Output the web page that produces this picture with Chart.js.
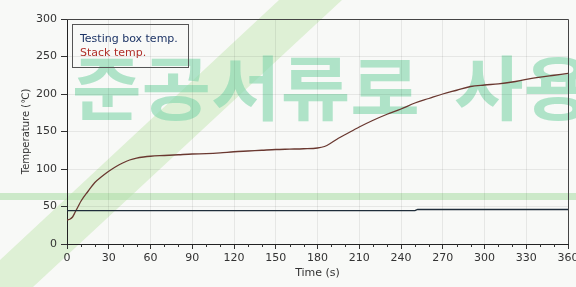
<!DOCTYPE html>
<html>
<head>
<meta charset="utf-8">
<script src="https://cdn.jsdelivr.net/npm/chart.js@4/dist/chart.umd.min.js"></script>
<style>
  html, body { margin: 0; padding: 0; overflow: hidden; background: #f8f9f7; }
  #wrap { width: 576px; height: 287px; overflow: hidden; }
</style>
</head>
<body>
<div id="wrap"><canvas id="tempChart" width="590" height="287"></canvas></div>
<script>
// Data
const stackTime = [0, 2, 4, 6, 8, 10, 15, 20, 25, 30, 35, 40, 45, 50, 55, 60, 70, 80, 90, 100, 110, 120, 130, 140, 150, 160, 170, 180, 185, 190, 195, 200, 210, 220, 230, 240, 250, 260, 270, 280, 290, 300, 310, 320, 330, 340, 350, 360];
const stackTemp = [32, 33, 36, 43, 50, 57, 70, 82, 90, 97, 103, 108, 112, 114.5, 116, 117, 118, 119, 120, 120.5, 121.5, 123, 124, 125, 126, 126.5, 127, 128, 130, 135, 141, 146, 156, 165, 173, 180, 188, 194, 200, 205, 210, 212, 213.5, 216, 219.5, 222.5, 225, 227.5];
const boxTime = [0, 250, 252, 360];
const boxTemp = [44.5, 44.5, 46, 46];
const xTicks = [0, 30, 60, 90, 120, 150, 180, 210, 240, 270, 300, 330, 360];
const yTicks = [0, 50, 100, 150, 200, 250, 300];
const minorStep = 10;

const toPoints = (xs, ys) => xs.map((x, i) => ({ x: x, y: ys[i] }));

// scan watermark behind the plot
const watermark = {
  id: "watermark",
  beforeDraw(chart) {
    const ctx = chart.ctx;
    ctx.save();
    ctx.fillStyle = "#f8f9f7";
    ctx.fillRect(0, 0, chart.width, chart.height);
    // diagonal band
    ctx.fillStyle = "rgba(190, 228, 170, 0.45)";
    ctx.beginPath();
    ctx.moveTo(0, 287);
    ctx.lineTo(33, 287);
    ctx.lineTo(342, 0);
    ctx.lineTo(279, 0);
    ctx.lineTo(0, 260);
    ctx.closePath();
    ctx.fill();
    // horizontal band
    ctx.fillStyle = "rgba(175, 222, 170, 0.6)";
    ctx.fillRect(0, 193, chart.width, 7);
    // text, a little stretched like the stamp
    ctx.fillStyle = "rgba(135, 215, 175, 0.65)";
    ctx.font = "bold 70px 'Noto Sans CJK KR'";
    ctx.textBaseline = "alphabetic";
    ctx.scale(1.08, 1);
    ctx.fillText("준공서류로  사용", 72 / 1.08, 115);
    ctx.restore();
  }
};

// minor ticks, frame and legend box
const decorations = {
  id: "decorations",
  afterDraw(chart) {
    const ctx = chart.ctx;
    const area = chart.chartArea;
    const xs = chart.scales.x;
    ctx.save();
    ctx.strokeStyle = "#333";
    ctx.lineWidth = 1;
    ctx.beginPath();
    for (let v = 0; v <= 360; v += minorStep) {
      if (v % 30 === 0) continue;
      const px = Math.round(xs.getPixelForValue(v)) + 0.5;
      ctx.moveTo(px, area.bottom);
      ctx.lineTo(px, area.bottom + 3);
    }
    ctx.stroke();

    // top and right frame
    ctx.strokeStyle = "#444";
    ctx.beginPath();
    ctx.moveTo(area.left, Math.round(area.top) + 0.5);
    ctx.lineTo(Math.round(area.right) + 0.5, Math.round(area.top) + 0.5);
    ctx.lineTo(Math.round(area.right) + 0.5, area.bottom);
    ctx.stroke();

    // legend
    const bx = area.left + 5, by = area.top + 5;
    ctx.strokeStyle = "#555";
    ctx.strokeRect(bx + 0.5, by + 0.5, 116, 43);
    ctx.font = "11px 'DejaVu Sans'";
    ctx.textBaseline = "middle";
    const textColors = ["#1d3466", "#b0302a"];
    chart.data.datasets.forEach((ds, i) => {
      ctx.fillStyle = textColors[i];
      ctx.fillText(ds.label, bx + 8, by + 15 + i * 14);
    });
    ctx.restore();
  }
};

new Chart(document.getElementById("tempChart"), {
  type: "line",
  data: {
    datasets: [
      {
        label: "Testing box temp.",
        data: toPoints(boxTime, boxTemp),
        borderColor: "#1f2d3a",
        borderWidth: 1.3,
        pointRadius: 0,
        tension: 0,
      },
      {
        label: "Stack temp.",
        data: toPoints(stackTime, stackTemp),
        borderColor: "#6a3830",
        borderWidth: 1.3,
        pointRadius: 0,
        tension: 0.4,
        cubicInterpolationMode: "monotone",
      },
    ],
  },
  options: {
    responsive: false,
    animation: false,
    layout: { padding: { top: 19, right: 22, left: 0, bottom: 0 } },
    plugins: { legend: { display: false }, tooltip: { enabled: false } },
    scales: {
      x: {
        type: "linear",
        min: 0,
        max: 360,
        afterBuildTicks: (s) => { s.ticks = xTicks.map((v) => ({ value: v })); },
        afterFit: (s) => { s.height = 43; },
        grid: { color: "rgba(0,0,0,0.07)", tickColor: "#333", tickLength: 5 },
        border: { color: "#222", width: 1 },
        ticks: { color: "#333", font: { family: "DejaVu Sans", size: 11 }, padding: 3, maxRotation: 0 },
        title: { display: true, text: "Time (s)", color: "#333", font: { family: "DejaVu Sans", size: 11 }, padding: { top: 0, bottom: 7 } },
      },
      y: {
        min: 0,
        max: 300,
        afterBuildTicks: (s) => { s.ticks = yTicks.map((v) => ({ value: v })); },
        afterFit: (s) => { s.width = 67; },
        grid: { color: "rgba(0,0,0,0.07)", tickColor: "#333", tickLength: 6 },
        border: { color: "#222", width: 1 },
        ticks: { color: "#333", font: { family: "DejaVu Sans", size: 11 }, padding: 4 },
        title: { display: true, text: "Temperature (℃)", color: "#333", font: { family: "DejaVu Sans", size: 10 }, padding: { top: 20, bottom: 0 } },
      },
    },
  },
  plugins: [watermark, decorations],
});
</script>
</body>
</html>
